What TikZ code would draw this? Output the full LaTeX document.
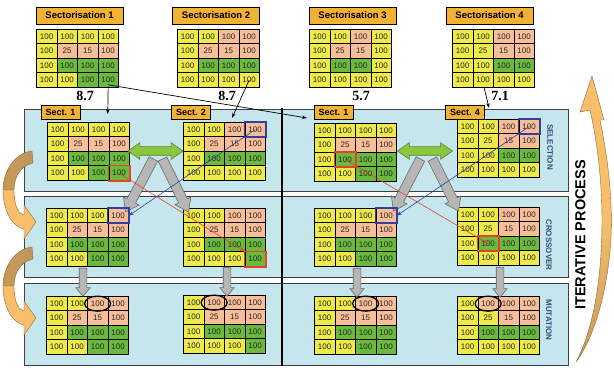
\documentclass[tikz,border=0pt]{standalone}
\usepackage{fontspec}
\setmainfont{Liberation Sans}
\newfontfamily\serifbf{Liberation Serif}
\usetikzlibrary{arrows.meta,shapes.arrows,calc}
\definecolor{cY}{RGB}{238,234,74}
\definecolor{cS}{RGB}{248,190,152}
\definecolor{cG}{RGB}{106,186,62}
\definecolor{cT}{RGB}{242,178,52}
\definecolor{cP}{RGB}{196,230,236}
\definecolor{cR}{RGB}{232,64,42}
\definecolor{cB}{RGB}{52,62,160}
\definecolor{cGr}{RGB}{182,182,182}
\definecolor{cGrD}{RGB}{105,105,105}
\definecolor{cGA}{RGB}{140,198,63}
\definecolor{cGAD}{RGB}{88,130,40}
\definecolor{cL}{RGB}{60,72,120}
\definecolor{cOr}{RGB}{248,190,106}
\definecolor{cBr}{RGB}{196,152,88}
\newcommand\mkgrid[4]{%
  \foreach \gc [count=\gi from 0] in {#4} {%
    \pgfmathtruncatemacro\gr{int(\gi/4)}%
    \pgfmathtruncatemacro\gk{mod(\gi,4)}%
    \ifnum\gi=5 \def\gt{25}\else\ifnum\gi=6 \def\gt{15}\else\def\gt{100}\fi\fi
    \node[cell, fill=c\gc, anchor=north west] (#1-\gr-\gk) at ({#2+\gk*20.5},{#3+\gr*14.5}) {\gt};
  }%
}
\newcommand\fatarrow[3]{%
  \path let \p1=(#2), \p2=(#3), \n1={atan2(\y2-\y1,\x2-\x1)}, \n2={veclen(\x2-\x1,\y2-\y1)} in
    node[#1, rotate=\n1, minimum height=\n2] at ($(#2)!0.5!(#3)$) {};
}
\begin{document}
\begin{tikzpicture}[x=1pt,y=-1pt,
  cell/.style={draw=black, line width=0.8pt, minimum width=20.5pt, minimum height=14.5pt, inner sep=0pt, font=\fontsize{8}{8}\selectfont, text=black!85},
  title/.style={draw=black, line width=0.9pt, fill=cT, font=\bfseries\fontsize{9.5}{10}\selectfont, minimum width=87pt, minimum height=17pt, inner sep=0pt},
  sect/.style={draw=black, line width=0.9pt, fill=cT, font=\bfseries\fontsize{9}{9}\selectfont, minimum width=39pt, minimum height=14pt, inner sep=0pt},
  score/.style={font=\serifbf\bfseries\fontsize{14}{14}\selectfont},
  panel/.style={fill=cP, draw=black!75, line width=0.8pt},
  phase/.style={rotate=-90, font=\bfseries\fontsize{8}{8}\selectfont, text=cL},
  thinarrow/.style={-{Stealth[length=5pt,width=3.5pt]}, line width=0.7pt},
  hlred/.style={draw=cR, line width=1.8pt},
  hlblue/.style={draw=cB, line width=1.8pt},
  grayarrow/.style={single arrow, fill=cGr, draw=cGrD, line width=0.6pt, inner xsep=0pt, inner ysep=4.5pt, single arrow head extend=4pt, single arrow tip angle=70},
  downarrow/.style={single arrow, fill=cGr, draw=cGrD, line width=0.6pt, inner xsep=0pt, inner ysep=3.5pt, single arrow head extend=3.5pt, single arrow tip angle=80},
  greenarrow/.style={double arrow, fill=cGA, draw=cGAD, line width=0.6pt, inner xsep=0pt, inner ysep=4pt, double arrow head extend=4pt, double arrow tip angle=70, minimum height=55pt},
  curvebr/.style={fill=cBr, draw=cBr!70!black, line width=0.4pt},
  curveor/.style={fill=cOr, draw=cBr!70!black, line width=0.4pt},
  mutmark/.style={draw=black, line width=1.3pt}
]
\useasboundingbox (0,0) rectangle (614,371);

% panels
\path[panel] (24,109) rectangle (568,191);
\path[panel] (24,196) rectangle (568,277);
\path[panel] (24,283) rectangle (568,365);
\draw[line width=2.4pt] (282,108) -- (282,366);

% left curved arrows
\foreach \dy in {0,96} {
\begin{scope}[shift={(0,\dy)}]
\path[curvebr] (32,151) .. controls (14,153) and (3,172) .. (3,190) -- (14,190) .. controls (14,178) and (20,166) .. (33,163) -- cycle;
\path[curveor] (3,190) .. controls (3,210) and (12,227) .. (24,229) -- (24,239) -- (36,222) -- (24,205) -- (24,215) .. controls (16,213) and (14,200) .. (14,190) -- cycle;
\end{scope}
}

% right big arrow
\path[top color=cOr, bottom color=cBr, middle color=cOr, draw=cBr!70!black, line width=0.4pt]
  (576,362) .. controls (600,330) and (614,262) .. (611,205)
  .. controls (609,165) and (604,140) .. (600,120) -- (604,120) -- (592,76) -- (580,112)
  -- (590,110) .. controls (597,140) and (602,180) .. (602,220)
  .. controls (602,280) and (593,330) .. (576,362) -- cycle;
\node[rotate=90, font=\bfseries\fontsize{14.5}{14.5}\selectfont] (iter) at (580.5,235) {ITERATIVE PROCESS};

% titles
\node[title] (t1) at (79.5,15.5) {Sectorisation 1};
\node[title] (t2) at (216,15.5) {Sectorisation 2};
\node[title] (t3) at (352.5,15.5) {Sectorisation 3};
\node[title] (t4) at (489.5,15.5) {Sectorisation 4};

\mkgrid{s1}{36}{29}{Y,Y,Y,Y,Y,S,S,S,Y,G,G,G,Y,Y,G,G}
\mkgrid{s2}{177}{29}{Y,Y,S,S,Y,S,S,S,Y,G,G,G,Y,Y,Y,Y}
\mkgrid{s3}{309}{29}{Y,Y,S,Y,Y,S,S,Y,Y,G,G,Y,Y,Y,Y,Y}
\mkgrid{s4}{452}{29}{Y,Y,S,S,Y,Y,S,S,Y,Y,G,G,Y,Y,Y,Y}

\node[score] (v1) at (85,96) {8.7};
\node[score] (v2) at (227,96) {8.7};
\node[score] (v3) at (361,96) {5.7};
\node[score] (v4) at (500,96) {7.1};

% selection
\mkgrid{a1}{47}{122}{Y,Y,Y,Y,Y,S,S,S,Y,G,G,G,Y,Y,G,G}
\mkgrid{a2}{183}{122}{Y,Y,S,S,Y,S,S,S,Y,G,G,G,Y,Y,Y,Y}
\mkgrid{a3}{314}{123}{Y,Y,Y,Y,Y,S,S,S,Y,G,G,G,Y,Y,G,G}
\mkgrid{a4}{457}{119}{Y,Y,S,S,Y,Y,S,S,Y,Y,G,G,Y,Y,Y,Y}
% crossover
\mkgrid{b1}{46}{208}{Y,Y,Y,S,Y,S,S,S,Y,G,G,G,Y,Y,G,G}
\mkgrid{b2}{183}{208}{Y,Y,S,S,Y,S,S,S,Y,G,G,G,Y,Y,Y,G}
\mkgrid{b3}{314}{208}{Y,Y,Y,S,Y,S,S,S,Y,G,G,G,Y,Y,G,G}
\mkgrid{b4}{457}{207}{Y,Y,S,S,Y,Y,S,S,Y,G,G,G,Y,Y,Y,Y}
% mutation
\mkgrid{c1}{46}{296}{Y,Y,S,S,Y,S,S,S,Y,G,G,G,Y,Y,G,G}
\mkgrid{c2}{183}{295}{Y,S,S,S,Y,S,S,S,Y,G,G,G,Y,Y,Y,G}
\mkgrid{c3}{314}{296}{Y,Y,S,S,Y,S,S,S,Y,G,G,G,Y,Y,G,G}
\mkgrid{c4}{457}{296}{Y,S,S,S,Y,Y,S,S,Y,G,G,G,Y,Y,Y,Y}

% section labels
\node[sect] (l1) at (60.5,112) {Sect. 1};
\node[sect] (l2) at (191,112) {Sect. 2};
\node[sect] (l3) at (333.5,112) {Sect. 1};
\node[sect] (l4) at (465,112) {Sect. 4};

% phase labels
\node[phase] (p1) at (550,147) {SELECTION};
\node[phase] (p2) at (549,245) {CROSSOVER};
\node[phase] (p3) at (549,320) {MUTATION};

% top arrows
\coordinate (e1) at (107.75,114);
\coordinate (e2) at (307,118);
\coordinate (e3) at (232,118);
\coordinate (f4) at (484,87);
\coordinate (e4) at (489,108);
\draw[thinarrow] (s1-3-3.south) -- (e1);
\draw[thinarrow] ($(s1-3-3.south)+(0,-3)$) -- (e2);
\draw[thinarrow] (s2-3-3.center) -- (e3);
\draw[thinarrow] (f4) -- (e4);

% green double arrows
\node[greenarrow] (gL) at (155.5,151) {};
\node[greenarrow] (gR) at (425,151) {};

% gray crossover arrows
\coordinate (xa1) at (155,156); \coordinate (xb1) at (127,209);
\coordinate (xa2) at (161,156); \coordinate (xb2) at (187,209);
\coordinate (xa3) at (422,156); \coordinate (xb3) at (395,208);
\coordinate (xa4) at (431,156); \coordinate (xb4) at (457,208);
\fatarrow{grayarrow}{xa1}{xb1}
\fatarrow{grayarrow}{xa2}{xb2}
\fatarrow{grayarrow}{xa3}{xb3}
\fatarrow{grayarrow}{xa4}{xb4}

% gray down arrows
\coordinate (da1) at (83,266); \coordinate (db1) at (83,294);
\coordinate (da2) at (227,265); \coordinate (db2) at (227,294);
\coordinate (da3) at (357,266); \coordinate (db3) at (357,295);
\coordinate (da4) at (500,265); \coordinate (db4) at (500,295);
\fatarrow{downarrow}{da1}{db1}
\fatarrow{downarrow}{da2}{db2}
\fatarrow{downarrow}{da3}{db3}
\fatarrow{downarrow}{da4}{db4}

% highlight boxes
\foreach \n in {a1-3-3,b2-3-3,a3-2-1,b4-2-1}
  \draw[hlred] (\n.north west) rectangle (\n.south east);
\foreach \n in {a2-0-3,b1-0-3,a4-0-3,b3-0-3}
  \draw[hlblue] (\n.north west) rectangle (\n.south east);

% exchange lines
\draw[thinarrow, draw=cR, line width=0.6pt] (a1-3-3.center) -- (b2-3-3.north west);
\draw[thinarrow, draw=cB, line width=0.6pt] (a2-0-3.center) -- (b1-0-3.east);
\draw[thinarrow, draw=cR, line width=0.6pt] (a3-2-1.center) -- (b4-2-1.center);
\draw[thinarrow, draw=cB, line width=0.6pt] (a4-0-3.center) -- (b3-0-3.east);

% mutation marks
\foreach \n in {c1-0-2,c2-0-1,c3-0-2,c4-0-1}
  \draw[mutmark] (\n.center) ellipse [x radius=13, y radius=7.5];
\end{tikzpicture}
\end{document}
